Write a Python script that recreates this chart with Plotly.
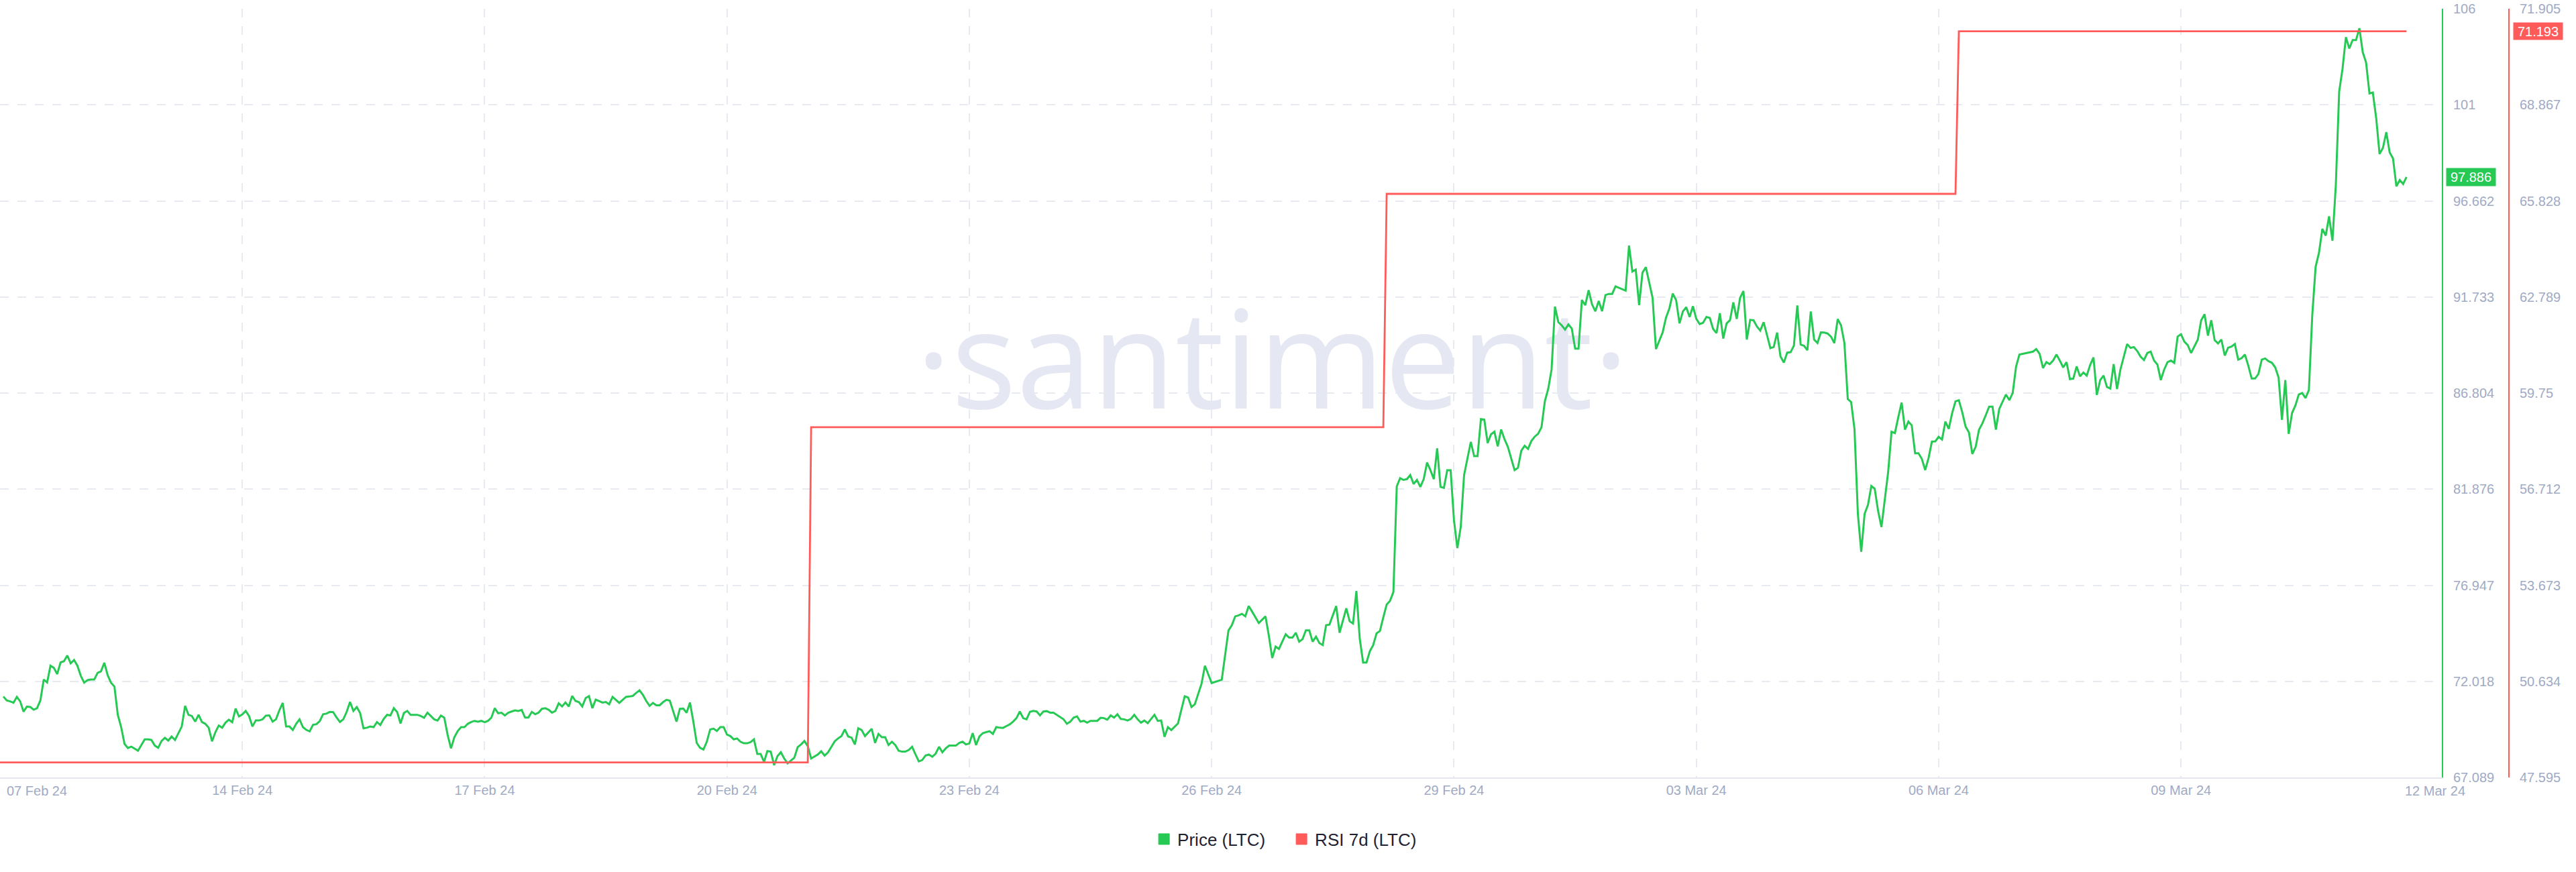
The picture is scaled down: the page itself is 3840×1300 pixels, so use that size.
import pandas as pd
import plotly.graph_objects as go

# ---------------- data ----------------
start = pd.Timestamp("2024-02-11 00:00")
range_hours = 725.5

# hourly LTC price, in segments (start hour, values)
price_seg_starts = [1, 124, 243, 363, 483, 604]

price_seg1 = [71.24, 71.04, 70.99, 70.92, 71.22, 70.99, 70.46, 70.72, 70.70, 70.56,
              70.64, 71.04, 72.11, 71.96, 72.82, 72.71, 72.39, 72.99, 73.05, 73.34,
              72.94, 73.11, 72.82, 72.30, 71.95, 72.08, 72.11, 72.11, 72.45, 72.53,
              72.97, 72.33, 71.94, 71.75, 70.30, 69.67, 68.81, 68.60, 68.67, 68.55,
              68.46, 68.75, 69.04, 69.04, 69.01, 68.72, 68.61, 68.96, 69.12, 68.98,
              69.19, 69.01, 69.38, 69.70, 70.76, 70.30, 70.24, 69.95, 70.30, 69.93,
              69.84, 69.64, 68.94, 69.41, 69.75, 69.64, 69.90, 70.05, 69.92, 70.62,
              70.22, 70.32, 70.50, 70.24, 69.70, 70.01, 70.01, 70.07, 70.26, 70.27,
              69.95, 70.07, 70.53, 70.91, 69.70, 69.70, 69.52, 69.84, 70.07, 69.67,
              69.53, 69.45, 69.79, 69.82, 69.98, 70.33, 70.36, 70.45, 70.44, 70.16,
              69.93, 70.07, 70.45, 70.96, 70.50, 70.70, 70.39, 69.61, 69.64, 69.70,
              69.67, 69.93, 69.78, 70.09, 70.30, 70.27, 70.64, 70.44, 69.86, 70.39,
              70.50, 70.30]

price_seg2 = [70.30, 70.24, 70.15, 70.41, 70.24, 70.07, 70.01, 70.26, 70.15, 69.27,
              68.58, 69.15, 69.47, 69.67, 69.67, 69.84, 69.93, 69.99, 69.95, 69.99,
              69.92, 69.99, 70.16, 70.64, 70.38, 70.41, 70.27, 70.41, 70.47, 70.53,
              70.50, 70.55, 70.16, 70.16, 70.45, 70.33, 70.41, 70.61, 70.64, 70.56,
              70.41, 70.50, 70.89, 70.73, 70.93, 70.73, 71.27, 71.01, 70.95, 70.73,
              71.16, 71.26, 70.64, 71.08, 71.01, 70.93, 70.96, 70.84, 71.22, 71.07,
              70.91, 71.07, 71.22, 71.24, 71.27, 71.42, 71.56, 71.33, 71.01, 70.76,
              70.91, 70.79, 70.79, 70.95, 71.07, 71.03, 70.47, 69.95, 70.61, 70.62,
              70.41, 70.93, 69.95, 68.86, 68.61, 68.52, 68.92, 69.55, 69.59, 69.47,
              69.67, 69.67, 69.29, 69.21, 69.04, 69.09, 68.92, 68.84, 68.84, 68.90,
              69.04, 68.29, 68.29, 67.89, 68.44, 68.41, 67.72, 68.18, 68.38, 68.06,
              67.81, 67.97, 68.10, 68.64, 68.78, 68.96, 68.69, 68.06]

price_seg3 = [68.27, 68.43, 68.21, 68.37, 68.64, 68.94, 69.09, 69.21, 69.55, 69.19,
              69.13, 68.78, 69.61, 69.52, 69.21, 69.38, 69.58, 68.86, 69.32, 69.15,
              69.15, 68.75, 68.92, 68.75, 68.46, 68.41, 68.41, 68.50, 68.66, 68.27,
              67.91, 67.98, 68.21, 68.26, 68.15, 68.31, 68.66, 68.38, 68.58, 68.72,
              68.72, 68.72, 68.86, 68.92, 68.78, 68.83, 69.36, 68.75, 69.19, 69.36,
              69.41, 69.46, 69.32, 69.67, 69.64, 69.63, 69.72, 69.81, 69.95, 70.13,
              70.47, 70.13, 70.07, 70.45, 70.50, 70.47, 70.27, 70.47, 70.49, 70.41,
              70.41, 70.30, 70.18, 70.07, 69.84, 69.95, 70.16, 70.22, 69.95, 69.99,
              69.90, 69.99, 69.99, 69.99, 70.15, 70.13, 70.05, 70.27, 70.16, 70.33,
              70.09, 70.07, 70.01, 70.09, 70.30, 70.07, 69.90, 70.01, 69.87, 70.07,
              70.30, 69.99, 70.01, 69.17, 69.67, 69.52, 69.69, 69.86, 70.56, 71.25,
              71.19, 70.70, 70.84, 71.39, 71.90, 72.82, 72.36, 71.93]

price_seg4 = [72.10, 73.43, 74.63, 74.90, 75.35, 75.40, 75.48, 75.35, 75.88, 75.60,
              75.30, 75.01, 75.18, 75.35, 74.35, 73.21, 73.80, 73.68, 74.06, 74.43,
              74.26, 74.26, 74.51, 74.05, 74.18, 74.63, 74.63, 74.05, 74.31, 73.98,
              73.88, 74.90, 74.93, 75.43, 75.88, 74.51, 75.18, 75.76, 75.10, 74.98,
              76.65, 74.21, 72.98, 72.98, 73.56, 73.88, 74.48, 74.60, 75.30, 75.96,
              76.15, 76.60, 82.02, 82.44, 82.35, 82.39, 82.60, 82.14, 82.35, 81.99,
              82.39, 83.24, 82.85, 82.39, 83.97, 81.99, 81.94, 82.85, 82.85, 80.27,
              78.85, 79.93, 82.60, 83.40, 84.30, 83.57, 83.57, 85.47, 85.44, 84.24,
              84.69, 84.82, 84.07, 84.94, 84.44, 84.05, 83.49, 82.85, 82.97, 83.85,
              84.10, 83.94, 84.35, 84.57, 84.72, 85.05, 86.39, 87.02, 88.02, 91.24,
              90.44, 90.28, 90.06, 90.33, 90.11, 89.08, 89.08, 91.58, 91.31, 92.08,
              91.36, 91.00, 91.53, 91.00, 91.83, 91.89, 91.89, 92.28]

price_seg5 = [92.06, 94.37, 93.04, 93.14, 91.32, 92.98, 93.26, 92.47, 91.69, 89.06,
              89.49, 89.92, 90.68, 91.15, 91.91, 91.57, 90.38, 90.99, 91.21, 90.71,
              91.26, 90.61, 90.34, 90.41, 90.71, 90.66, 90.09, 89.88, 90.90, 89.60,
              90.38, 90.54, 91.46, 90.61, 91.69, 92.04, 89.55, 90.56, 90.54, 90.22,
              90.01, 90.44, 89.78, 89.11, 89.17, 89.91, 88.69, 88.37, 88.88, 88.90,
              89.24, 91.30, 89.29, 89.23, 89.00, 90.99, 89.55, 89.37, 89.92, 89.91,
              89.86, 89.70, 89.37, 90.60, 90.28, 89.37, 86.50, 86.34, 84.94, 80.61,
              78.66, 80.61, 81.07, 82.04, 81.90, 80.77, 79.93, 81.34, 82.76, 84.82,
              84.75, 85.56, 86.32, 84.93, 85.34, 85.15, 83.72, 83.72, 83.43, 82.85,
              83.47, 84.32, 84.33, 84.56, 84.42, 85.34, 84.97, 85.77, 86.38, 86.44,
              85.83, 85.09, 84.78, 83.68, 84.05, 84.93, 85.25, 85.67, 86.11, 86.11,
              84.93, 85.99, 86.38, 86.73, 86.44, 86.81, 88.16, 88.78]

price_seg6 = [88.93, 89.06, 88.81, 88.09, 88.39, 88.29, 88.47, 88.78, 88.47, 88.12,
              88.39, 87.52, 87.55, 88.17, 87.66, 87.86, 87.70, 88.24, 88.63, 86.71,
              87.47, 87.70, 87.12, 87.04, 88.29, 87.01, 88.01, 88.63, 89.32, 89.12,
              89.16, 88.96, 88.67, 88.50, 88.86, 88.93, 88.47, 88.27, 87.47, 88.01,
              88.39, 88.47, 88.35, 89.70, 89.82, 89.44, 89.27, 88.86, 89.19, 89.55,
              90.54, 90.85, 89.75, 90.54, 89.52, 89.35, 89.55, 88.73, 89.13, 89.19,
              89.32, 88.52, 88.59, 88.78, 88.21, 87.55, 87.55, 87.78, 88.52, 88.58,
              88.44, 88.36, 88.12, 87.60, 85.43, 87.47, 84.71, 85.78, 86.17, 86.73,
              86.81, 86.55, 86.96, 90.78, 93.28, 94.00, 95.23, 94.88, 95.87, 94.62,
              97.46, 102.27, 103.45, 105.06, 104.48, 104.91, 104.91, 105.52, 104.29, 103.76,
              102.17, 102.22, 100.91, 99.07, 99.38, 100.19, 99.15, 98.84, 97.41, 97.73,
              97.53, 97.886]

# RSI 7d: step values (hour offsets of breakpoints, values)
rsi_hours = [0, 240, 241, 411, 412, 581, 582, 715]
rsi_values = [48.07, 48.07, 58.67, 58.67, 66.05, 66.05, 71.193, 71.193]

# axes
price_range = [67.089, 106.52]
price_tick_text = ["67.089", "72.018", "76.947", "81.876", "86.804",
                   "91.733", "96.662", "101", "106"]
rsi_range = [47.595, 71.905]
rsi_tick_text = ["47.595", "50.634", "53.673", "56.712", "59.75",
                 "62.789", "65.828", "68.867", "71.905"]
date_ticks = ["2024-02-11", "2024-02-14", "2024-02-17", "2024-02-20", "2024-02-23",
              "2024-02-26", "2024-02-29", "2024-03-03", "2024-03-06", "2024-03-09"]
date_tick_text = ["", "14 Feb 24", "17 Feb 24", "20 Feb 24", "23 Feb 24",
                  "26 Feb 24", "29 Feb 24", "03 Mar 24", "06 Mar 24", "09 Mar 24"]
first_label = "07 Feb 24"
last_label = "12 Mar 24"

# ---------------- build ----------------
GREEN = "#26c953"
RED = "#ff5b5b"
LABEL = "#9faac4"
GRID = "#e8eaf2"
FONT = "Liberation Sans, Arial, sans-serif"

segs = [price_seg1, price_seg2, price_seg3, price_seg4, price_seg5, price_seg6]
price_x, price_y = [], []
for s0, seg in zip(price_seg_starts, segs):
    for i, v in enumerate(seg):
        price_x.append(start + pd.Timedelta(hours=s0 + i))
        price_y.append(v)
rsi_x = [start + pd.Timedelta(hours=h) for h in rsi_hours]
end = start + pd.Timedelta(hours=range_hours)

n_ticks = len(price_tick_text)
price_tickvals = [price_range[0] + k * (price_range[1] - price_range[0]) / (n_ticks - 1) for k in range(n_ticks)]
rsi_tickvals = [rsi_range[0] + k * (rsi_range[1] - rsi_range[0]) / (n_ticks - 1) for k in range(n_ticks)]

fig = go.Figure()

# watermark (drawn first, beneath the lines)
wm_x = start + pd.Timedelta(hours=range_hours * 0.521)
wm_y = price_range[0] + 0.5244 * (price_range[1] - price_range[0])
fig.add_trace(go.Scatter(x=[wm_x], y=[wm_y], mode="text", text=["·santiment·"],
                         textposition="middle center",
                         textfont=dict(family="Open Sans", size=203, color="#e5e8f2"),
                         hoverinfo="skip", showlegend=False))

fig.add_trace(go.Scatter(x=price_x, y=price_y, mode="lines", name="Price (LTC)",
                         line=dict(color=GREEN, width=3), showlegend=False, yaxis="y"))
fig.add_trace(go.Scatter(x=rsi_x, y=rsi_values, mode="lines", name="RSI 7d (LTC)",
                         line=dict(color=RED, width=2.8), showlegend=False, yaxis="y2"))

# legend entries (square swatches)
for name, col in [("Price (LTC)", GREEN), ("RSI 7d (LTC)", RED)]:
    fig.add_trace(go.Scatter(x=[None], y=[None], mode="markers", name=name,
                             marker=dict(symbol="square", size=16, color=col,
                                         line=dict(color=col, width=1)),
                             showlegend=True))

dom_end = 3640 / 3740
fig.update_layout(
    width=3840, height=1300,
    margin=dict(l=0, r=100, t=13, b=141),
    paper_bgcolor="white", plot_bgcolor="white",
    font=dict(family=FONT),
    hovermode=False,
    xaxis=dict(type="date", domain=[0, dom_end], range=[start, end],
               tickvals=date_ticks, ticktext=date_tick_text,
               showgrid=True, gridcolor=GRID, gridwidth=2, griddash="13px,13px",
               showline=True, linecolor="#e3e6ef", linewidth=2,
               ticks="", zeroline=False, ticklabelstandoff=0,
               tickfont=dict(size=20, color=LABEL, family=FONT)),
    yaxis=dict(side="right", range=price_range, tickvals=price_tickvals,
               ticktext=price_tick_text, showgrid=True, gridcolor=GRID, gridwidth=2,
               griddash="13px,13px", showline=True, linecolor=GREEN, linewidth=2,
               ticks="", zeroline=False, ticklabelstandoff=11,
               tickfont=dict(size=20, color=LABEL, family=FONT)),
    yaxis2=dict(overlaying="y", side="right", anchor="free", position=1.0,
                range=rsi_range, tickvals=rsi_tickvals, ticktext=rsi_tick_text,
                showgrid=False, showline=True, linecolor=RED, linewidth=2,
                ticks="", zeroline=False, ticklabelstandoff=11,
                tickfont=dict(size=20, color=LABEL, family=FONT)),
    legend=dict(orientation="h", x=0.5134, xanchor="center", y=-0.0803, yanchor="middle",
                font=dict(size=26, color="#1f2233", family=FONT),
                entrywidth=160, bgcolor="rgba(0,0,0,0)"),
)

annotations = [
    dict(xref="paper", yref="y", x=dom_end, y=price_y[-1], xanchor="left", yanchor="middle",
         xshift=6, text=f"{price_y[-1]:.3f}", showarrow=False, bgcolor=GREEN,
         font=dict(size=20, color="white", family=FONT), width=73, height=26, borderpad=0),
    dict(xref="paper", yref="y2", x=1.0, y=rsi_values[-1], xanchor="left", yanchor="middle",
         xshift=6, text=f"{rsi_values[-1]:.3f}", showarrow=False, bgcolor=RED,
         font=dict(size=20, color="white", family=FONT), width=73, height=25, borderpad=0),
    dict(xref="paper", yref="paper", x=0, y=0, xanchor="left", yanchor="middle",
         xshift=8, yshift=-20, text=first_label, showarrow=False,
         font=dict(size=20, color=LABEL, family=FONT)),
    dict(xref="x", yref="paper", x=start + pd.Timedelta(hours=723.5), y=0,
         xanchor="center", yanchor="middle", yshift=-20, text=last_label, showarrow=False,
         font=dict(size=20, color=LABEL, family=FONT)),
]
fig.update_layout(annotations=annotations)

fig.write_html("out.html",
               config={"displayModeBar": False},
               post_script="document.body.style.margin='0';document.body.style.padding='0';")
